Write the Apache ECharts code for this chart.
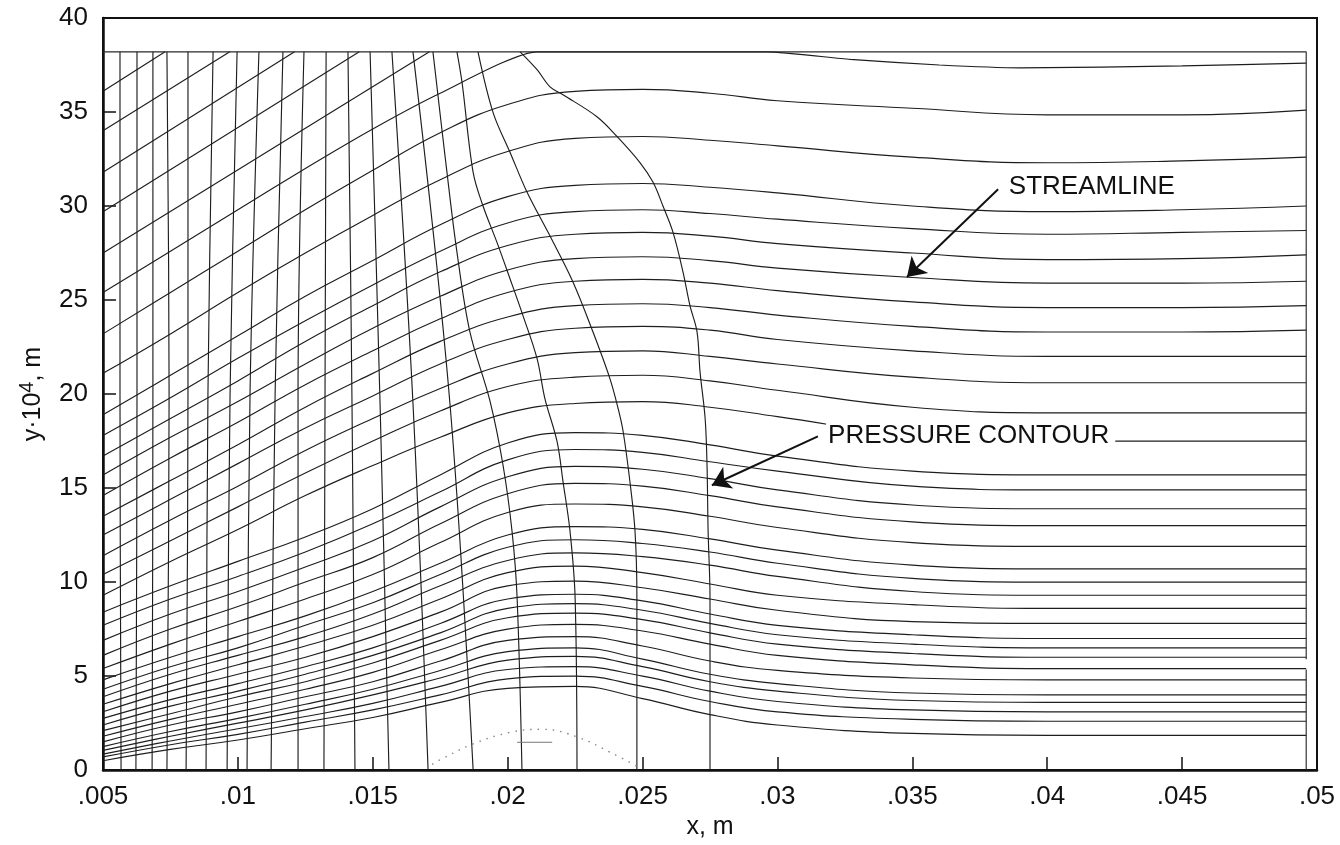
<!DOCTYPE html>
<html><head><meta charset="utf-8">
<script src="https://cdn.jsdelivr.net/npm/echarts@6/dist/echarts.min.js"></script>
<style>html,body{margin:0;padding:0;background:#fff}#c{width:1340px;height:845px}</style>
</head><body><div id="c"></div>
<script>
// x-stations (m) at which each streamline's height (y·10^4 m) was read
const xStations = [0.005, 0.0075, 0.01, 0.0125, 0.015, 0.0175, 0.02, 0.0225, 0.025, 0.0275, 0.03, 0.035, 0.04, 0.045, 0.0496];

// full-length streamlines, top to bottom
const streamlines = [
  [23.2, 25.4, 27.6, 29.8, 31.9, 33.9, 35.4, 36.1, 36.2, 36.0, 35.6, 35.2, 34.85, 34.85, 35.1],
  [21.1, 23.2, 25.4, 27.5, 29.5, 31.4, 32.9, 33.6, 33.7, 33.5, 33.2, 32.6, 32.3, 32.4, 32.6],
  [18.9, 21.0, 23.1, 25.2, 27.1, 29.0, 30.5, 31.1, 31.2, 31.0, 30.7, 30.0, 29.7, 29.8, 30.0],
  [17.8, 19.8, 21.9, 23.9, 25.8, 27.6, 29.1, 29.7, 29.8, 29.6, 29.3, 28.8, 28.5, 28.6, 28.7],
  [16.7, 18.7, 20.7, 22.8, 24.7, 26.5, 27.9, 28.5, 28.6, 28.4, 28.0, 27.5, 27.15, 27.2, 27.4],
  [15.7, 17.7, 19.6, 21.6, 23.5, 25.2, 26.6, 27.2, 27.3, 27.1, 26.7, 26.2, 25.9, 25.9, 26.0],
  [14.6, 16.6, 18.5, 20.5, 22.3, 24.0, 25.4, 26.0, 26.1, 25.9, 25.5, 24.9, 24.6, 24.6, 24.7],
  [13.5, 15.4, 17.3, 19.3, 21.1, 22.8, 24.1, 24.7, 24.8, 24.6, 24.2, 23.6, 23.3, 23.3, 23.4],
  [12.5, 14.4, 16.3, 18.2, 19.9, 21.6, 22.9, 23.5, 23.6, 23.4, 22.9, 22.3, 22.0, 22.0, 22.0],
  [11.4, 13.3, 15.1, 17.0, 18.7, 20.3, 21.6, 22.2, 22.3, 22.0, 21.6, 20.9, 20.6, 20.6, 20.6],
  [10.4, 12.2, 14.0, 15.8, 17.5, 19.1, 20.4, 20.9, 21.0, 20.7, 20.2, 19.3, 19.0, 19.0, 19.0],
  [9.3, 11.1, 12.8, 14.6, 16.2, 17.7, 19.0, 19.5, 19.6, 19.3, 18.8, 17.8, 17.5, 17.5, 17.5],
  [8.4, 9.8, 11.1, 12.4, 13.9, 15.7, 17.4, 17.95, 17.8, 17.3, 16.7, 15.9, 15.7, 15.7, 15.7],
  [7.7, 9.1, 10.3, 11.6, 13.1, 14.8, 16.5, 17.05, 16.9, 16.4, 15.9, 15.1, 14.9, 14.9, 14.9],
  [6.9, 8.3, 9.5, 10.8, 12.2, 14.0, 15.6, 16.15, 16.0, 15.5, 14.9, 14.1, 13.9, 13.9, 13.9],
  [6.1, 7.5, 8.7, 10.0, 11.3, 13.1, 14.7, 15.25, 15.1, 14.6, 14.0, 13.2, 13.0, 13.0, 13.0],
  [5.4, 6.7, 7.9, 9.1, 10.4, 12.1, 13.7, 14.15, 14.0, 13.5, 12.9, 12.1, 11.9, 11.9, 11.9],
  [4.8, 6.0, 7.1, 8.2, 9.5, 11.0, 12.5, 12.95, 12.8, 12.3, 11.7, 10.9, 10.7, 10.7, 10.7],
  [4.3, 5.5, 6.5, 7.7, 8.9, 10.4, 11.85, 12.25, 12.05, 11.6, 11.0, 10.2, 10.0, 10.0, 10.0],
  [3.9, 5.1, 6.1, 7.1, 8.3, 9.8, 11.15, 11.55, 11.35, 10.9, 10.3, 9.5, 9.3, 9.3, 9.3],
  [3.5, 4.6, 5.6, 6.6, 7.7, 9.1, 10.5, 10.85, 10.5, 9.9, 9.3, 8.8, 8.6, 8.6, 8.6],
  [3.1, 4.2, 5.1, 6.0, 7.1, 8.4, 9.8, 10.05, 9.7, 9.1, 8.5, 7.9, 7.8, 7.8, 7.8],
  [2.75, 3.75, 4.6, 5.5, 6.5, 7.8, 9.1, 9.35, 9.0, 8.3, 7.7, 7.2, 7.0, 7.0, 7.0],
  [2.4, 3.4, 4.2, 5.1, 6.1, 7.3, 8.6, 8.85, 8.5, 7.8, 7.2, 6.7, 6.5, 6.5, 6.5],
  [2.1, 3.0, 3.9, 4.7, 5.7, 6.9, 8.1, 8.35, 8.0, 7.3, 6.7, 6.2, 6.0, 6.0, 6.0],
  [1.8, 2.7, 3.5, 4.3, 5.2, 6.4, 7.5, 7.75, 7.4, 6.7, 6.1, 5.6, 5.4, 5.4, 5.4],
  [1.5, 2.4, 3.1, 3.9, 4.7, 5.8, 6.9, 7.1, 6.6, 5.8, 5.3, 4.9, 4.8, 4.8, 4.8],
  [1.25, 2.05, 2.75, 3.5, 4.3, 5.3, 6.3, 6.5, 5.9, 5.1, 4.6, 4.1, 4.0, 4.0, 4.0],
  [1.05, 1.8, 2.5, 3.2, 4.0, 4.9, 5.85, 6.05, 5.5, 4.7, 4.2, 3.7, 3.6, 3.6, 3.6],
  [0.85, 1.55, 2.2, 2.85, 3.55, 4.45, 5.35, 5.5, 5.0, 4.2, 3.65, 3.2, 3.1, 3.1, 3.1],
  [0.7, 1.35, 1.9, 2.55, 3.2, 4.0, 4.85, 5.0, 4.45, 3.65, 3.1, 2.7, 2.6, 2.6, 2.6],
  [0.5, 1.1, 1.6, 2.2, 2.8, 3.6, 4.35, 4.45, 3.8, 2.95, 2.4, 1.95, 1.85, 1.85, 1.85]
];

// streamlines that leave through the upper boundary: [x, y] points
const exitStreamlines = [
  [[0.005, 36.1], [0.0073, 38.2]],
  [[0.005, 34.0], [0.0097, 38.2]],
  [[0.005, 31.8], [0.0121, 38.2]],
  [[0.005, 29.7], [0.0145, 38.2]],
  [[0.005, 27.5], [0.0171, 38.2]],
  [[0.005, 25.4], [0.0075, 27.6], [0.01, 29.8], [0.0125, 32.0], [0.015, 34.1], [0.0175, 36.0], [0.0211, 38.2],
   [0.0296, 38.2], [0.0327, 37.8], [0.036, 37.5], [0.039, 37.35], [0.045, 37.45], [0.0496, 37.6]]
];

// pressure contours, [x, y] from top to bottom
const pressureContours = [
  [[0.00563, 38.2], [0.00563, 20.0], [0.00567, 0]],
  [[0.00626, 38.2], [0.00626, 20.0], [0.00622, 0]],
  [[0.00685, 38.2], [0.00685, 20.0], [0.00682, 0]],
  [[0.00737, 38.2], [0.00745, 20.0], [0.00737, 0]],
  [[0.00815, 38.2], [0.00815, 20.0], [0.00808, 0]],
  [[0.00908, 38.2], [0.00889, 20.0], [0.00882, 0]],
  [[0.00997, 38.2], [0.00971, 20.0], [0.0096, 0]],
  [[0.01078, 38.2], [0.01045, 20.0], [0.01034, 0]],
  [[0.01167, 38.2], [0.01138, 20.0], [0.01123, 0]],
  [[0.01245, 38.2], [0.01223, 20.0], [0.01223, 0]],
  [[0.01327, 38.2], [0.01323, 20.0], [0.01319, 0]],
  [[0.01408, 38.2], [0.01423, 19.5], [0.01434, 0]],
  [[0.0149, 38.2], [0.01527, 19.5], [0.0156, 0]],
  [[0.01571, 38.2], [0.01649, 19.5], [0.01705, 0]],
  [[0.01649, 38.2], [0.01786, 19.5], [0.01872, 0]],
  [[0.01723, 38.2], [0.01775, 31.79], [0.01812, 27.55], [0.0186, 23.31], [0.01935, 19.6], [0.01983, 16.2], [0.02016, 12.72], [0.02035, 9.17], [0.02053, 0]],
  [[0.01812, 38.2], [0.01831, 36.56], [0.01872, 31.79], [0.01909, 29.99], [0.0196, 28.08], [0.02009, 26.12], [0.02057, 24.16], [0.02109, 21.88], [0.02138, 19.76], [0.02183, 17.48], [0.02205, 15.36], [0.02231, 12.72], [0.0225, 9.17], [0.02257, 0]],
  [[0.0189, 38.2], [0.01946, 34.97], [0.02009, 32.85], [0.02072, 30.73], [0.02157, 28.4], [0.02242, 25.96], [0.02316, 23.31], [0.02379, 20.82], [0.0241, 19.2], [0.02428, 18.01], [0.02453, 15.36], [0.02472, 12.72], [0.02479, 9.17], [0.02479, 0]],
  [[0.02046, 38.2], [0.02109, 37.25], [0.02157, 36.34], [0.02205, 35.92], [0.02331, 34.75], [0.02405, 33.7], [0.02491, 32.3], [0.02539, 31.26], [0.02576, 29.99], [0.02613, 28.6], [0.0265, 26.49], [0.02676, 24.69], [0.02702, 23.31], [0.02713, 21.19], [0.02732, 18.7], [0.02739, 16.2], [0.02743, 12.7], [0.0275, 9.17], [0.0275, 0]]
];

// computational domain boundary
const domainTop = [[0.005, 38.2], [0.0496, 38.2], [0.0496, 5.9]];
const domainRightLow = [[0.0496, 5.35], [0.0496, 0]];

// dotted wall bump and short mark
const wallBump = [[0.0172, 0.3], [0.0175, 0.55], [0.0187, 1.38], [0.0201, 2.01], [0.0213, 2.17], [0.0226, 1.75], [0.0238, 0.95], [0.0248, 0.2]];
const bumpMark = [[0.02035, 1.48], [0.02165, 1.48]];

// annotations
const streamlineLabel = { text: 'STREAMLINE', at: [0.0385, 31.0], arrow: [[0.03818, 30.89], [0.0348, 26.23]] };
const pressureLabel = { text: 'PRESSURE CONTOUR', at: [0.0318, 17.8], arrow: [[0.0315, 17.75], [0.02757, 15.15]] };

const xTickLabels = ['.005', '.01', '.015', '.02', '.025', '.03', '.035', '.04', '.045', '.05'];
const yTickLabels = ['0', '5', '10', '15', '20', '25', '30', '35', '40'];

const FONT = "'Liberation Sans', Arial, Helvetica, sans-serif";
const INK = '#111';

const series = [];
const thin = { color: '#1e1e1e', width: 1.15 };

streamlines.forEach(ys => series.push({
  type: 'line', data: xStations.map((x, j) => [x, ys[j]]), showSymbol: false, smooth: 0.45,
  lineStyle: thin, silent: true, z: 2
}));
exitStreamlines.forEach(pts => series.push({
  type: 'line', data: pts, showSymbol: false, smooth: 0.2, lineStyle: thin, silent: true, z: 2
}));
pressureContours.forEach(pts => series.push({
  type: 'line', data: pts, showSymbol: false, smooth: 0.35, lineStyle: thin, silent: true, z: 2
}));
[domainTop, domainRightLow].forEach(pts => series.push({
  type: 'line', data: pts, showSymbol: false, lineStyle: { color: '#2a2a2a', width: 1.15 }, silent: true, z: 2
}));
series.push({ type: 'line', data: wallBump, showSymbol: false, smooth: 0.4,
  lineStyle: { color: '#888', width: 1.4, type: [1.5, 6] }, silent: true, z: 2 });
series.push({ type: 'line', data: bumpMark, showSymbol: false,
  lineStyle: { color: '#777', width: 1 }, silent: true, z: 2 });

[streamlineLabel, pressureLabel].forEach((a, i) => {
  series.push({
    type: 'scatter', data: [a.at], symbolSize: 0.1, silent: true, z: 5,
    itemStyle: { opacity: 1, color: 'transparent' },
    label: {
      show: true, position: 'right', distance: 0, formatter: a.text,
      fontFamily: FONT, fontSize: 26, color: INK, opacity: 1,
      backgroundColor: i === 1 ? '#fff' : 'transparent', padding: [2, 6, 2, 2]
    }
  });
  series.push({
    type: 'lines', coordinateSystem: 'cartesian2d', silent: true, z: 6,
    symbol: ['none', 'arrow'], symbolSize: [11, 18],
    lineStyle: { color: INK, width: 2, opacity: 1 },
    data: [{ coords: a.arrow }]
  });
});

const chart = echarts.init(document.getElementById('c'), null, { renderer: 'canvas' });
chart.setOption({
  animation: false,
  backgroundColor: '#fff',
  grid: { left: 103, right: 23, top: 18, bottom: 72, show: true, borderColor: '#111', borderWidth: 2 },
  xAxis: {
    type: 'value', min: 0.005, max: 0.05, interval: 0.005,
    axisLine: { show: true, lineStyle: { color: '#111', width: 2.5 } },
    axisTick: { show: true, inside: true, length: 13, lineStyle: { color: '#111', width: 1.5 } },
    splitLine: { show: false },
    axisLabel: { fontFamily: FONT, fontSize: 26, color: INK, margin: 14,
      formatter: v => xTickLabels[Math.round((v - 0.005) / 0.005)] },
    name: 'x, m', nameLocation: 'middle', nameGap: 41,
    nameTextStyle: { fontFamily: FONT, fontSize: 25, color: INK }
  },
  yAxis: {
    type: 'value', min: 0, max: 40, interval: 5,
    axisLine: { show: true, lineStyle: { color: '#111', width: 2.5 } },
    axisTick: { show: true, inside: true, length: 13, lineStyle: { color: '#111', width: 1.5 } },
    splitLine: { show: false },
    axisLabel: { fontFamily: FONT, fontSize: 26, color: INK, margin: 15,
      formatter: v => yTickLabels[Math.round(v / 5)] },
    name: 'y·10{s|4}, m', nameLocation: 'middle', nameGap: 54, nameRotate: 90,
    nameTextStyle: { fontFamily: FONT, fontSize: 25, color: INK,
      rich: { s: { fontFamily: FONT, fontSize: 20, color: INK, padding: [0, 0, 12, 0] } } }
  },
  series
});
</script>
</body></html>
